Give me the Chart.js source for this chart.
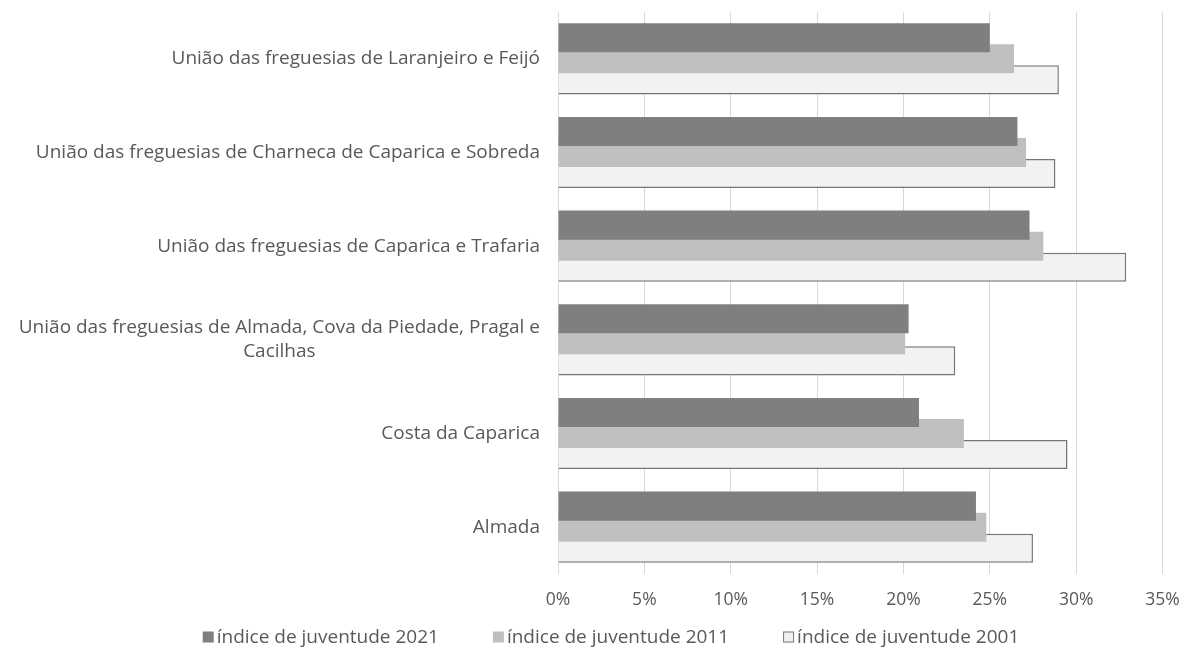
<!DOCTYPE html>
<html lang="en">
<head>
<meta charset="UTF-8">
<title>Índice de juventude</title>
<script src="https://cdn.jsdelivr.net/npm/chart.js"></script>
<style>
  html, body { margin: 0; padding: 0; background: #fff; }
  #wrap { width: 1184px; height: 653px; position: relative; }
</style>
</head>
<body>
<div id="wrap"><canvas id="chart"></canvas></div>
<script>
// data (percent)
const categories = [
  'União das freguesias de Laranjeiro e Feijó',
  'União das freguesias de Charneca de Caparica e Sobreda',
  'União das freguesias de Caparica e Trafaria',
  ['União das freguesias de Almada, Cova da Piedade, Pragal e', 'Cacilhas'],
  'Costa da Caparica',
  'Almada'
];
const juv2021 = [25.0, 26.6, 27.3, 20.3, 20.9, 24.2];
const juv2011 = [26.4, 27.1, 28.1, 20.1, 23.5, 24.8];
const juv2001 = [29.0, 28.8, 32.9, 23.0, 29.5, 27.5];
const xTicks = [0, 5, 10, 15, 20, 25, 30, 35];

const FONT = "'Open Sans', sans-serif";
const TXT = '#595959';

// y labels drawn by hand so the wrapped label is centred as a block
const yLabels = {
  id: 'yLabels',
  afterDraw(chart) {
    const s = chart.scales.y;
    const ctx = chart.ctx;
    ctx.save();
    ctx.font = '19px ' + FONT;
    ctx.fillStyle = TXT;
    ctx.textBaseline = 'middle';
    const right = s.right - 18;
    categories.forEach((lab, i) => {
      const yc = s.getPixelForValue(i);
      if (Array.isArray(lab)) {
        const w = Math.max(...lab.map(l => ctx.measureText(l).width));
        ctx.textAlign = 'center';
        const lh = 24;
        lab.forEach((l, k) => {
          ctx.fillText(l, right - w / 2, yc + (k - (lab.length - 1) / 2) * lh);
        });
      } else {
        ctx.textAlign = 'right';
        ctx.fillText(lab, right, yc);
      }
    });
    ctx.restore();
  }
};

// legend along the bottom, Excel style (small square, tight gap)
const bottomLegend = {
  id: 'bottomLegend',
  afterDraw(chart) {
    const ctx = chart.ctx;
    const sets = chart.data.datasets;
    ctx.save();
    ctx.font = '19px ' + FONT;
    ctx.textBaseline = 'middle';
    const box = 11, gap = 3, between = 54;
    const widths = sets.map(d => box + gap + ctx.measureText(d.label).width);
    const total = widths.reduce((a, b) => a + b, 0) + between * (sets.length - 1);
    let x = 611 - total / 2;
    const y = 637;
    sets.forEach((d, i) => {
      ctx.fillStyle = d.backgroundColor;
      ctx.fillRect(x, y - box / 2, box, box);
      if (d.borderWidth) {
        ctx.strokeStyle = d.borderColor;
        ctx.lineWidth = 1;
        ctx.strokeRect(x + 0.5, y - box / 2 + 0.5, box - 1, box - 1);
      }
      ctx.fillStyle = TXT;
      ctx.textAlign = 'left';
      ctx.fillText(d.label, x + box + gap, y + 1);
      x += widths[i] + between;
    });
    ctx.restore();
  }
};

new Chart(document.getElementById('chart'), {
  type: 'bar',
  data: {
    labels: categories,
    datasets: [
      { label: 'índice de juventude 2021', data: juv2021, backgroundColor: '#7f7f7f', borderWidth: 0 },
      { label: 'índice de juventude 2011', data: juv2011, backgroundColor: '#bfbfbf', borderWidth: 0 },
      { label: 'índice de juventude 2001', data: juv2001, backgroundColor: '#f2f2f2', borderColor: '#767676', borderWidth: 1.5 }
    ]
  },
  options: {
    indexAxis: 'y',
    responsive: true,
    maintainAspectRatio: false,
    animation: false,
    categoryPercentage: 0.674,
    barPercentage: 1.38,
    layout: { padding: { top: 12, right: 21.5, bottom: 26, left: 0 } },
    scales: {
      x: {
        min: 0, max: 35,
        afterBuildTicks: s => { s.ticks = xTicks.map(v => ({ value: v })); },
        afterFit: s => { s.paddingLeft = 0; s.paddingRight = 0; },
        grid: { color: '#d9d9d9', lineWidth: 1, drawTicks: false },
        border: { display: false },
        ticks: {
          color: TXT, padding: 16,
          font: { family: FONT, size: 17.5 },
          callback: v => v + '%'
        }
      },
      y: {
        grid: { display: false },
        border: { display: false },
        ticks: { display: false },
        afterFit: s => { s.width = 558; }
      }
    },
    plugins: {
      legend: { display: false },
      tooltip: { enabled: false }
    }
  },
  plugins: [yLabels, bottomLegend]
});
</script>
</body>
</html>
